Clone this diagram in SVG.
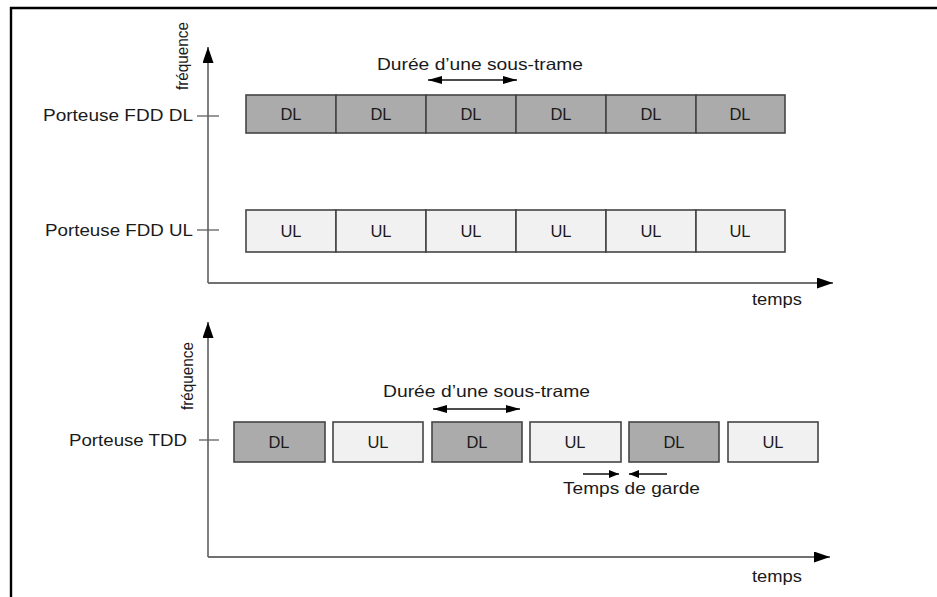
<svg xmlns="http://www.w3.org/2000/svg" width="937" height="597" viewBox="0 0 937 597">
<style>
text{font-family:"Liberation Sans",Arial,sans-serif;fill:#1a1a1a;font-size:16.5px}
.c{text-anchor:middle}
.e{text-anchor:end}
.axis{stroke:#707070;stroke-width:1.8;fill:none}
.tick{stroke:#606060;stroke-width:1.3}
.dl{fill:#ababab;stroke:#454545;stroke-width:1.6}
.ul{fill:#f1f1f1;stroke:#454545;stroke-width:1.6}
.dim{stroke:#111;stroke-width:1.3;fill:none}
</style>
<defs>
<marker id="ah" markerWidth="10" markerHeight="8" refX="10" refY="4" orient="auto" markerUnits="userSpaceOnUse">
<path d="M0,0 L10,4 L0,8 Z" fill="#000"/>
</marker>
<marker id="ahs" markerWidth="14" markerHeight="8" refX="14" refY="4" orient="auto-start-reverse" markerUnits="userSpaceOnUse">
<path d="M0,0 L14,4 L0,8 Z" fill="#000"/>
</marker>
<marker id="ax" markerWidth="16" markerHeight="11" refX="16" refY="5.5" orient="auto" markerUnits="userSpaceOnUse">
<path d="M0,0 L16,5.5 L0,11 Z" fill="#000"/>
</marker>
</defs>
<rect width="937" height="597" fill="#fff"/>
<path d="M11,597 V8 H937" fill="none" stroke="#000" stroke-width="2.4"/>

<g id="connectors">
<!-- upper axes -->
<path class="axis" d="M208,283 V47" marker-end="url(#ax)"/>
<path class="axis" d="M208,283 H833" marker-end="url(#ax)"/>
<line class="tick" x1="197" y1="116" x2="219" y2="116"/>
<line class="tick" x1="197" y1="230" x2="219" y2="230"/>
<!-- lower axes -->
<path class="axis" d="M208,557 V322" marker-end="url(#ax)"/>
<path class="axis" d="M208,557 H830" marker-end="url(#ax)"/>
<line class="tick" x1="199" y1="440" x2="219" y2="440"/>
<!-- dimension arrows -->
<path class="dim" d="M428,80 H517" marker-start="url(#ahs)" marker-end="url(#ahs)"/>
<path class="dim" d="M433,409 H520" marker-start="url(#ahs)" marker-end="url(#ahs)"/>
<path class="dim" d="M583,474 H619" marker-end="url(#ah)"/>
<path class="dim" d="M667,474 H629" marker-end="url(#ah)"/>
</g>

<g id="axis-labels">
<text transform="translate(188,56) rotate(-90)" class="c" textLength="68" lengthAdjust="spacingAndGlyphs">fréquence</text>
<text transform="translate(193,376) rotate(-90)" class="c" textLength="68" lengthAdjust="spacingAndGlyphs">fréquence</text>
<text x="752" y="305" textLength="50" lengthAdjust="spacingAndGlyphs">temps</text>
<text x="752" y="582" textLength="50" lengthAdjust="spacingAndGlyphs">temps</text>
</g>

<g id="label-fdd-dl"><text x="43" y="121" textLength="150" lengthAdjust="spacingAndGlyphs">Porteuse FDD DL</text></g>
<g id="label-fdd-ul"><text x="45" y="236" textLength="148" lengthAdjust="spacingAndGlyphs">Porteuse FDD UL</text></g>
<g id="label-tdd"><text x="69" y="446" textLength="118" lengthAdjust="spacingAndGlyphs">Porteuse TDD</text></g>
<g id="label-duree-1"><text x="377" y="70" textLength="206" lengthAdjust="spacingAndGlyphs">Durée d’une sous-trame</text></g>
<g id="label-duree-2"><text x="383" y="397" textLength="207" lengthAdjust="spacingAndGlyphs">Durée d’une sous-trame</text></g>
<g id="label-garde"><text x="563" y="494" textLength="137" lengthAdjust="spacingAndGlyphs">Temps de garde</text></g>

<g id="fdd-dl">
<rect class="dl" x="246" y="95" width="90" height="38"/>
<rect class="dl" x="336" y="95" width="90" height="38"/>
<rect class="dl" x="426" y="95" width="90" height="38"/>
<rect class="dl" x="516" y="95" width="90" height="38"/>
<rect class="dl" x="606" y="95" width="90" height="38"/>
<rect class="dl" x="696" y="95" width="89" height="38"/>
<text class="c" x="291" y="120">DL</text>
<text class="c" x="381" y="120">DL</text>
<text class="c" x="471" y="120">DL</text>
<text class="c" x="561" y="120">DL</text>
<text class="c" x="651" y="120">DL</text>
<text class="c" x="740" y="120">DL</text>
</g>

<g id="fdd-ul">
<rect class="ul" x="246" y="210" width="90" height="42"/>
<rect class="ul" x="336" y="210" width="90" height="42"/>
<rect class="ul" x="426" y="210" width="90" height="42"/>
<rect class="ul" x="516" y="210" width="90" height="42"/>
<rect class="ul" x="606" y="210" width="90" height="42"/>
<rect class="ul" x="696" y="210" width="89" height="42"/>
<text class="c" x="291" y="237">UL</text>
<text class="c" x="381" y="237">UL</text>
<text class="c" x="471" y="237">UL</text>
<text class="c" x="561" y="237">UL</text>
<text class="c" x="651" y="237">UL</text>
<text class="c" x="740" y="237">UL</text>
</g>

<g id="tdd">
<rect class="dl" x="234" y="422" width="91" height="40"/>
<rect class="ul" x="333" y="422" width="90" height="40"/>
<rect class="dl" x="432" y="422" width="90" height="40"/>
<rect class="ul" x="530" y="422" width="91" height="40"/>
<rect class="dl" x="629" y="422" width="90" height="40"/>
<rect class="ul" x="728" y="422" width="90" height="40"/>
<text class="c" x="279" y="448">DL</text>
<text class="c" x="378" y="448">UL</text>
<text class="c" x="477" y="448">DL</text>
<text class="c" x="575" y="448">UL</text>
<text class="c" x="674" y="448">DL</text>
<text class="c" x="773" y="448">UL</text>
</g>
</svg>
